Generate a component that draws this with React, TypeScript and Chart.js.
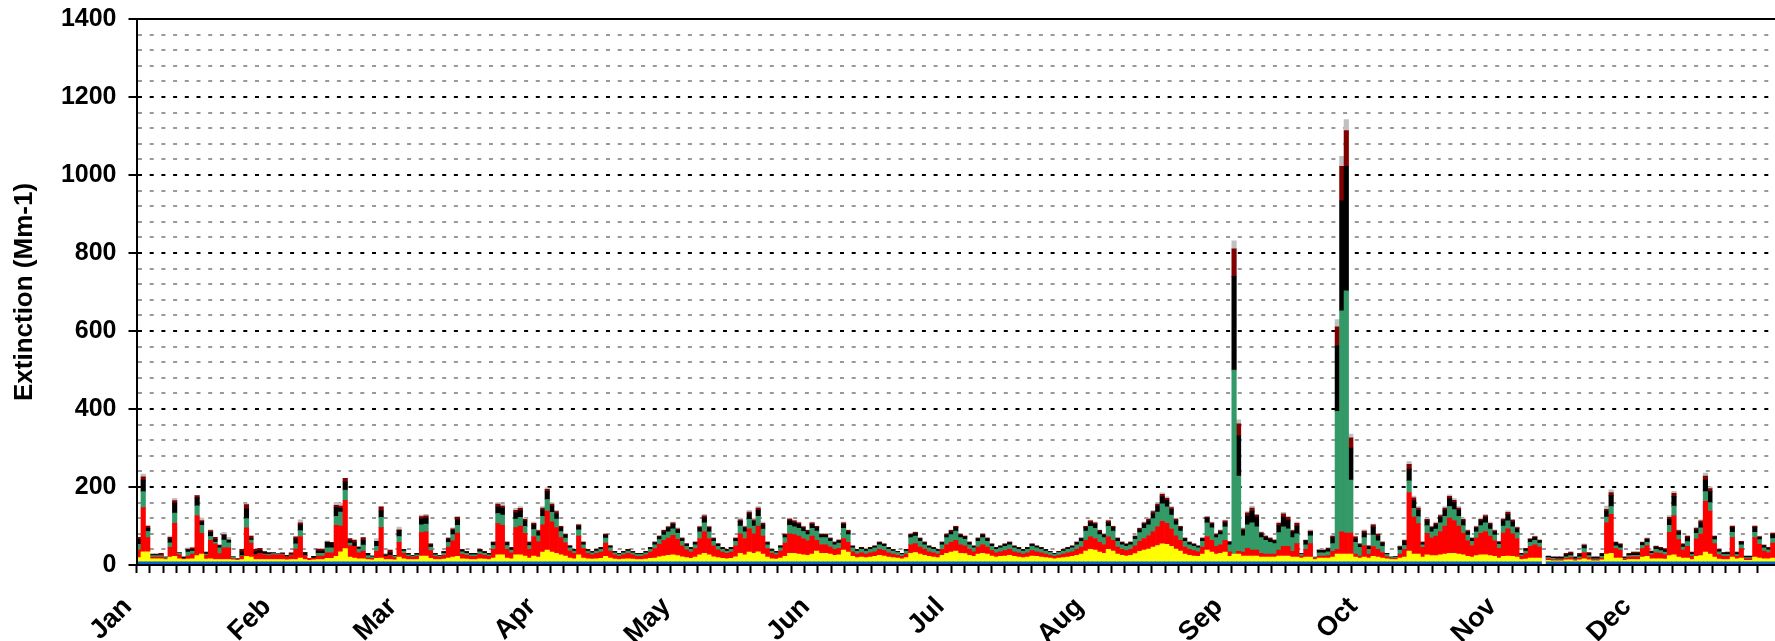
import React, { useEffect, useRef } from 'react';
import { Chart, registerables } from 'chart.js';

Chart.register(...registerables);

const monthNames = ['Jan', 'Feb', 'Mar', 'Apr', 'May', 'Jun', 'Jul', 'Aug', 'Sep', 'Oct', 'Nov', 'Dec'];
const monthStartDays = [0, 31, 59, 90, 120, 151, 181, 212, 243, 273, 304, 334];
const yTickLabels = [0, 200, 400, 600, 800, 1000, 1200, 1400];

// Rayleigh (blue)
const rayleigh = [
  8,8,8,8,8,8,8,8,8,8,8,8,8,8,8,8,8,8,8,8,8,8,8,8,8,8,8,8,8,8,8,
  8,8,8,8,8,8,8,8,8,8,8,8,8,8,8,8,8,8,8,8,8,8,8,8,8,8,8,8,
  8,8,8,8,8,8,8,8,8,8,8,8,8,8,8,8,8,8,8,8,8,8,8,8,8,8,8,8,8,8,8,
  8,8,8,8,8,8,8,8,8,8,8,8,8,8,8,8,8,8,8,8,8,8,8,8,8,8,8,8,8,8,
  8,8,8,8,8,8,8,8,8,8,8,8,8,8,8,8,8,8,8,8,8,8,8,8,8,8,8,8,8,8,8,
  8,8,8,8,8,8,8,8,8,8,8,8,8,8,8,8,8,8,8,8,8,8,8,8,8,8,8,8,8,8,
  8,8,8,8,8,8,8,8,8,8,8,8,8,8,8,8,8,8,8,8,8,8,8,8,8,8,8,8,8,8,8,
  8,8,8,8,8,8,8,8,8,8,8,8,8,8,8,8,8,8,8,8,8,8,8,8,8,8,8,8,8,8,8,
  8,8,8,8,8,8,8,8,8,8,8,8,8,8,8,8,8,8,8,8,8,8,8,8,8,8,8,8,8,8,
  8,8,8,8,8,8,8,8,8,8,8,8,8,8,8,8,8,8,8,8,8,8,8,8,8,8,8,8,8,8,8,
  8,8,8,8,8,8,8,8,8,0,8,8,8,8,8,8,8,8,8,8,8,8,8,8,8,8,8,8,8,8,
  8,8,8,8,8,8,8,8,8,8,8,8,8,8,8,8,8,8,8,8,8,8,8,8,8,8,8,8,8,8,8,
];

// Sulfate (yellow)
const sulfate = [
  11,26,26,8,8,8,6,12,14,8, 6,7,8,16,20,7,8,6,6,6, 6,5,4,6,14,12,6,6,6,6, 6,
  6,6,5,6,6,10,6,4,5,6, 6,9,9,14,26,34,12,10,8,8, 6,5,9,10,6,6,5,12,
  8,6,6,6,15,15,9,6,6,7, 10,12,14,8,7,6,6,8,7,6, 10,18,18,10,8,18,18,15,10,15, 12,
  25,30,25,22,18,15,10,8,18,10, 8,7,8,9,14,10,7,6,7,8, 7,6,6,7,9,10,13,15,17,18,
  16,13,11,9,12,18,22,18,13,11, 9,8,9,13,22,18,25,22,26,20, 12,8,7,10,14,22,22,20,18,17, 20,
  28,22,22,20,17,18,30,25,14,11, 12,11,12,14,17,15,12,11,10,8, 11,22,24,20,17,14,12,11,17,22,
  25,28,22,21,17,14,20,22,20,15, 12,14,15,17,14,12,11,12,15,14, 12,11,10,8,10,11,12,14,17,20, 28,
  32,30,25,22,32,28,20,17,15,17, 21,27,30,33,38,42,46,45,40,33, 28,20,17,15,14,20, 30,25,20,22,25,
  14,20,20,15,15,15,15,12,12,12, 12,15,15,15,12,12,10,12,12,6, 10,10,10,12,20,20,20,20,12,10,
  12,10,14,12,10,8,6,6,10,12, 28,20,20,12,18,16,16,18,20,22, 22,20,18,14,12,16,18,18,16,14, 10,
  14,15,14,12,6,7,10,10,10,0, 4,3,3,3,5,5,3,5,8,5, 3,3,5,20,22,10,10,4,6,6,
  6,12,14,8,8,8,7,16,18,12, 10,10,6,14,16,25,20,12,7,6, 6,12,8,10,4,4,12,10,8,8, 10,
];

// Nitrate (red)
const nitrate = [
  19,113,36,4,4,4,2,25,85,10, 2,8,12,103,53,10,47,40,15,30, 30,3,2,8,73,36,12,16,12,10, 12,
  12,12,7,10,27,55,10,5,4,9, 9,14,14,80,66,124,30,30,15,20, 4,4,18,78,8,10,6,38,
  14,8,6,8,60,62,20,8,6,10, 28,42,60,12,10,8,8,12,10,8, 22,80,76,22,15,70,74,58,22,50, 40,
  70,100,78,66,44,34,18,14,48,24, 14,11,14,16,34,18,11,8,11,14, 11,8,8,11,16,24,32,40,44,50,
  42,28,20,16,22,42,56,42,28,20, 16,14,16,28,50,42,60,50,66,46, 22,14,11,18,34,50,48,46,42,37, 46,
  27,22,22,18,15,17,30,25,12,9, 11,9,11,12,15,14,11,9,7,6, 9,22,23,18,15,12,11,9,15,22,
  25,27,22,20,15,12,18,22,18,14, 11,12,14,15,12,11,9,11,14,12, 11,9,7,6,7,9,11,12,15,18, 27,
  32,30,25,22,32,27,18,15,14,15, 20,26,30,34,40,48,58,54,44,34, 27,18,15,14,12,18, 35,30,20,22,30,
  12,0,7,10,20,15,15,10,8,8, 8,15,25,25,15,35,5,20,35,3, 5,5,6,15,12,57,54,54,8,5,
  30,10,25,20,14,5,2,3,10,20, 150,95,78,25,55,45,50,60,72,90, 84,72,55,40,30,45,55,60,50,40, 25,
  60,70,58,48,8,14,30,34,28,0, 4,3,3,3,4,6,3,4,16,6, 3,3,5,80,100,25,20,3,6,7,
  7,22,28,10,16,14,12,60,100,45, 20,30,8,45,55,130,110,35,12,8, 8,50,6,24,4,4,50,35,20,16, 38,
];

// Organic mass (green)
const organic = [
  15,41,16,4,4,4,3,12,26,4, 0,10,8,25,21,3,10,5,15,20, 13,4,1,2,24,8,0,0,2,3, 3,
  3,2,1,2,13,15,0,0,1,7, 7,13,13,23,36,26,6,0,10,15, 6,4,13,26,0,0,4,15,
  6,4,3,4,20,20,9,4,3,5, 12,16,20,6,5,4,4,6,5,4, 10,26,26,10,7,22,22,18,10,18, 15,
  22,30,24,22,16,12,8,6,16,10, 6,5,6,7,13,8,5,5,5,6, 5,5,5,5,7,10,12,14,16,17,
  15,12,9,7,10,17,22,17,12,9, 7,6,7,12,20,17,24,20,25,18, 10,6,5,8,14,22,20,20,18,16, 20,
  24,18,18,15,12,13,26,20,10,8, 9,8,9,10,12,11,9,8,7,5, 8,18,19,15,12,10,9,8,12,18,
  20,24,18,17,12,10,15,18,15,11, 9,10,11,12,10,9,8,9,11,10, 9,8,7,5,7,8,9,10,12,15, 24,
  27,26,20,18,27,24,15,12,11,12, 17,22,26,28,33,38,45,42,36,28, 24,15,12,11,10,15, 35,32,22,26,35,
  18,472,193,42,60,70,60,40,35,30, 27,45,50,45,35,25,5,12,20,2, 8,8,10,20,354,567,621,136,30,22,
  20,12,30,22,16,6,3,3,10,10, 30,22,18,7,20,16,18,22,25,30, 28,25,20,15,11,16,20,22,18,15, 10,
  18,20,18,15,4,7,10,11,10,0, 3,3,2,2,4,5,2,4,10,5, 2,2,4,15,20,6,6,2,4,4,
  4,8,8,4,8,7,6,18,25,12, 8,12,5,14,16,25,22,10,7,5, 5,14,5,10,3,3,14,12,8,7, 12,
];

// Elemental carbon (black)
const elemental = [
  13,30,8,3,3,1,1,10,26,1, 4,6,4,20,9,4,11,6,6,13, 7,1,1,10,25,4,8,7,6,4, 2,
  1,1,3,2,13,15,8,0,4,6, 6,15,12,22,9,21,6,9,5,13, 6,2,13,17,4,8,2,15,
  3,3,2,3,15,15,6,3,2,3, 8,11,14,4,3,3,3,4,3,3, 7,18,17,7,5,16,17,14,7,12, 10,
  16,20,16,14,10,8,4,3,10,5, 3,3,3,4,8,4,3,2,3,3, 3,2,2,3,4,5,7,9,10,11,
  9,6,5,4,5,10,13,10,6,5, 4,3,4,6,12,10,14,12,15,11, 5,3,3,4,7,12,11,10,9,8, 10,
  9,7,7,6,5,6,10,8,4,3, 4,3,4,4,5,5,4,3,2,2, 3,7,7,6,5,4,4,3,5,7,
  8,9,7,6,5,4,6,7,6,5, 4,4,5,5,4,4,3,4,5,4, 4,3,2,2,2,3,4,4,5,6, 9,
  10,10,8,7,10,9,6,5,5,5, 6,8,10,11,13,15,18,17,14,11, 9,6,5,5,4,6, 12,10,7,8,11,
  6,240,103,14,24,30,25,10,8,8, 7,18,25,22,15,20,2,10,10,0, 6,6,7,15,168,282,319,82,10,7,
  12,7,20,12,8,2,1,1,8,10, 30,20,16,5,12,10,11,14,16,20, 19,16,12,9,6,10,12,14,11,9, 5,
  14,16,13,10,3,5,7,8,6,0, 3,3,4,4,5,5,4,6,8,5, 4,4,6,15,28,8,8,3,4,5,
  5,6,8,4,6,5,6,15,25,9, 6,10,4,10,13,30,28,7,4,4, 5,12,5,6,3,3,12,6,5,4, 10,
];

// Soil (dark red)
const soil = [
  5,8,6,1,1,5,0,4,6,0, 0,2,4,6,3,1,4,6,1,1, 0,0,0,6,11,6,6,6,0,0, 0,
  0,2,0,3,5,5,0,0,0,5, 5,0,2,6,6,9,6,7,0,6, 0,0,0,10,0,6,0,2,
  1,1,0,1,6,6,2,1,0,2, 3,4,6,2,2,1,1,2,2,1, 2,6,6,2,2,6,6,4,2,4, 3,
  5,6,5,5,3,2,2,1,3,2, 1,1,1,1,2,2,1,1,1,1, 1,1,1,1,1,2,2,3,3,4,
  3,2,2,1,2,3,5,3,2,2, 1,1,1,2,4,3,5,4,6,4, 2,1,1,2,2,4,4,4,3,3, 4,
  3,2,2,2,2,2,4,3,1,1, 1,1,1,1,2,1,1,1,1,1, 1,2,3,2,2,1,1,1,2,2,
  3,3,2,2,2,1,2,2,2,1, 1,1,1,2,1,1,1,1,1,1, 1,1,1,1,1,1,1,1,2,2, 3,
  4,4,3,2,4,3,2,2,1,2, 2,3,4,4,5,5,6,5,5,4, 3,2,2,1,1,2, 3,3,2,2,4,
  2,71,31,4,7,8,5,3,3,3, 2,6,8,7,3,7,0,1,2,1, 1,1,2,4,49,88,92,26,4,2,
  5,2,6,5,3,1,0,1,1,3, 12,7,6,2,4,3,4,5,5,6, 5,5,4,2,2,3,4,5,4,2, 2,
  4,6,4,3,1,2,2,2,2,0, 1,0,0,0,4,4,0,3,2,3, 0,0,2,5,8,2,2,0,2,3,
  3,2,2,2,2,3,3,5,8,2, 2,4,2,3,5,10,8,2,2,1, 1,4,1,3,1,1,4,2,2,2, 4,
];

// Coarse mass (light gray)
const coarse = [
  0,7,0,0,0,0,0,3,6,0, 0,3,0,0,6,0,2,0,0,6, 7,0,0,0,2,0,0,0,0,0, 0,
  0,0,0,0,0,8,0,0,0,0, 0,3,0,8,7,0,0,0,0,0, 0,0,7,0,4,0,0,7,
  0,0,0,0,4,4,1,0,0,0, 1,2,3,0,0,0,0,0,0,0, 1,4,4,1,0,5,5,3,1,3, 2,
  4,4,4,3,1,1,0,0,2,1, 0,0,0,0,1,0,0,0,0,0, 0,0,0,0,0,1,1,1,2,2,
  2,1,0,0,1,2,4,2,1,0, 0,0,0,1,4,2,4,4,4,3, 1,0,0,0,1,2,2,2,2,1, 2,
  1,1,1,1,1,1,2,1,1,0, 0,0,0,1,1,1,0,0,0,0, 0,1,1,1,1,1,0,0,1,1,
  1,1,1,1,1,1,1,1,1,1, 0,1,1,1,1,0,0,0,1,1, 0,0,0,0,0,0,0,1,1,1, 1,
  2,2,1,1,2,1,1,1,1,1, 1,1,2,2,3,4,4,4,3,2, 1,1,1,1,1,1, 2,2,1,2,2,
  0,20,10,2,3,5,2,2,1,1, 1,3,4,3,2,3,0,2,3,0, 2,2,2,1,18,26,28,10,2,1,
  3,1,2,1,1,0,0,0,3,2, 7,5,4,1,3,2,3,3,4,4, 4,4,3,2,1,2,3,3,3,2, 0,
  2,4,2,2,0,0,1,1,0,0, 0,0,0,0,0,0,0,0,2,0, 0,0,0,8,7,0,0,0,0,0,
  0,2,2,0,2,0,0,5,5,2, 0,0,0,3,3,8,5,0,0,0, 0,0,0,0,0,0,0,1,1,0, 0,
];

const FONT = '"Liberation Sans", Arial, Helvetica, sans-serif';

export default function App() {
  const ref = useRef<HTMLCanvasElement>(null);

  useEffect(() => {
    const dayLabels = rayleigh.map((_, i) => String(i));
    const mk = (label: string, data: number[], color: string) => ({
      label,
      data,
      backgroundColor: color,
      borderWidth: 0,
      barPercentage: 1,
      categoryPercentage: 1,
      xAxisID: 'x',
      yAxisID: 'y',
    });
    const noPad = (s: any) => {
      s.paddingLeft = 0;
      s.paddingRight = 0;
      s.paddingTop = 0;
      s.paddingBottom = 0;
    };
    const chart = new Chart(ref.current as HTMLCanvasElement, {
      type: 'bar',
      data: {
        labels: dayLabels,
        datasets: [
          mk('Rayleigh', rayleigh, '#0066CC'),
          mk('Sulfate', sulfate, '#FFFF00'),
          mk('Nitrate', nitrate, '#FF0000'),
          mk('Organic', organic, '#339966'),
          mk('EC', elemental, '#000000'),
          mk('Soil', soil, '#800000'),
          mk('Coarse', coarse, '#C0C0C0'),
        ] as any,
      },
      options: {
        responsive: false,
        animation: false,
        layout: { padding: { top: 19, right: 0, left: 6, bottom: 0 } },
        plugins: { legend: { display: false }, tooltip: { enabled: false } },
        scales: {
          x: {
            type: 'category',
            stacked: true,
            position: 'bottom',
            weight: 1,
            grid: { display: false, drawTicks: false },
            border: { display: false },
            afterFit: (s: any) => {
              noPad(s);
              s.height = 68;
            },
            ticks: {
              autoSkip: false,
              maxRotation: 45,
              minRotation: 45,
              padding: 18,
              labelOffset: -11,
              color: '#000',
              font: { family: FONT, size: 27, weight: 'bold' },
              callback: (_v: any, i: number) => {
                const m = monthStartDays.indexOf(i);
                return m >= 0 ? monthNames[m] : '';
              },
            },
          },
          xt: {
            type: 'linear',
            position: 'bottom',
            weight: 0,
            min: 0,
            max: 365,
            afterFit: (s: any) => {
              noPad(s);
              s.height = 8;
            },
            ticks: { display: false, stepSize: 3, maxTicksLimit: 1000 },
            grid: { display: true, drawOnChartArea: false, drawTicks: true, tickLength: 8, tickWidth: 2, tickColor: '#000' },
            border: { display: true, color: '#000', width: 2, z: 1 },
          },
          xtop: {
            type: 'linear',
            position: 'top',
            min: 0,
            max: 365,
            afterFit: (s: any) => {
              noPad(s);
              s.height = 0;
            },
            ticks: { display: false },
            grid: { display: false, drawTicks: false },
            border: { display: true, color: '#000', width: 2, z: 1 },
          },
          y: {
            type: 'linear',
            stacked: true,
            min: 0,
            max: 1400,
            afterFit: (s: any) => {
              noPad(s);
              s.width = 130.5;
            },
            ticks: {
              stepSize: 40,
              maxTicksLimit: 1000,
              autoSkip: false,
              padding: 12,
              color: '#000',
              font: { family: FONT, size: 25, weight: 'bold' },
              callback: (v: any) => (yTickLabels.includes(Number(v)) ? String(v) : ''),
            },
            grid: {
              color: (c: any) => (yTickLabels.includes(c.tick?.value) ? '#000000' : '#999999'),
              lineWidth: 2,
              tickLength: 8,
              tickWidth: 2,
              tickBorderDash: [],
              tickColor: (c: any) => (yTickLabels.includes(c.tick?.value) ? '#000000' : 'rgba(0,0,0,0)'),
            },
            border: { display: true, color: '#000', width: 2, dash: [4, 7.7], z: 1 },
            title: {
              display: true,
              text: 'Extinction (Mm-1)',
              color: '#000',
              font: { family: FONT, size: 26, weight: 'bold' },
              padding: { top: 3, bottom: 20 },
            },
          },
        },
      } as any,
    });
    return () => chart.destroy();
  }, []);

  return (
    <div style={{ position: 'absolute', left: 0, top: 0, width: 1775, height: 641, background: '#fff' }}>
      <canvas ref={ref} width={1775} height={641} style={{ display: 'block', width: 1775, height: 641 }} />
    </div>
  );
}
